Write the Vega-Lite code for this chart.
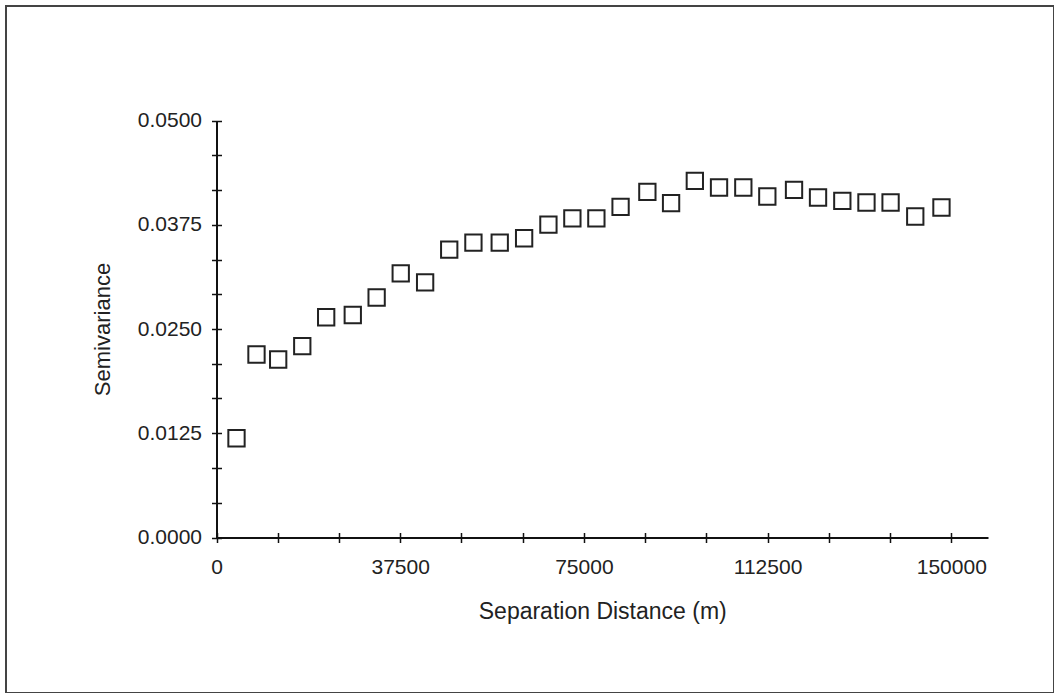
{
  "$schema": "https://vega.github.io/schema/vega-lite/v6.json",
  "autosize": {"type": "none"},
  "padding": {"left": 6, "top": 6, "right": 0, "bottom": 0},
  "width": 1048,
  "height": 687,
  "background": "white",
  "config": {
    "view": {"stroke": "#444", "strokeWidth": 2},
    "axis": {"grid": false, "labelFont": "Liberation Sans", "titleFont": "Liberation Sans", "labelColor": "#222", "titleColor": "#222", "titleFontWeight": "normal", "domainColor": "#111", "tickColor": "#111"}
  },
  "data": {"values": [
    {"lag": 4082, "gamma": 0.01190},
    {"lag": 8163, "gamma": 0.02194},
    {"lag": 12592, "gamma": 0.02134},
    {"lag": 17510, "gamma": 0.02294},
    {"lag": 22390, "gamma": 0.02641},
    {"lag": 27820, "gamma": 0.02668},
    {"lag": 32690, "gamma": 0.02878},
    {"lag": 37610, "gamma": 0.03168},
    {"lag": 42590, "gamma": 0.03060},
    {"lag": 47510, "gamma": 0.03451},
    {"lag": 52450, "gamma": 0.03535},
    {"lag": 57820, "gamma": 0.03535},
    {"lag": 62800, "gamma": 0.03588},
    {"lag": 67760, "gamma": 0.03751},
    {"lag": 72650, "gamma": 0.03827},
    {"lag": 77550, "gamma": 0.03827},
    {"lag": 82490, "gamma": 0.03965},
    {"lag": 87960, "gamma": 0.04145},
    {"lag": 92800, "gamma": 0.04010},
    {"lag": 97650, "gamma": 0.04275},
    {"lag": 102590, "gamma": 0.04197},
    {"lag": 107550, "gamma": 0.04197},
    {"lag": 112450, "gamma": 0.04089},
    {"lag": 117900, "gamma": 0.04169},
    {"lag": 122800, "gamma": 0.04077},
    {"lag": 127760, "gamma": 0.04037},
    {"lag": 132690, "gamma": 0.04017},
    {"lag": 137610, "gamma": 0.04017},
    {"lag": 142650, "gamma": 0.03849},
    {"lag": 148000, "gamma": 0.03957}
  ]},
  "layer": [
    {
      "mark": {"type": "point", "shape": "square", "filled": false, "stroke": "#222", "strokeWidth": 2, "size": 266, "opacity": 1},
      "encoding": {
        "x": {"field": "lag", "type": "quantitative",
          "scale": {"domain": [0, 157500], "range": [210.5, 982], "nice": false, "zero": false},
          "axis": {"orient": "bottom", "offset": -155.5, "title": "Separation Distance (m)",
            "values": [0, 12500, 25000, 37500, 50000, 62500, 75000, 87500, 100000, 112500, 125000, 137500, 150000],
            "labelExpr": "datum.value % 37500 == 0 ? format(datum.value, 'd') : ''",
            "tickSize": 5, "tickWidth": 1.5, "domainWidth": 2, "labelFontSize": 21, "labelPadding": 14,
            "titleFontSize": 23, "titlePadding": 23, "labelFlush": false, "labelOverlap": false}},
        "y": {"field": "gamma", "type": "quantitative",
          "scale": {"domain": [0, 0.05], "range": [531.5, 114.5], "nice": false, "zero": false},
          "axis": {"orient": "left", "offset": -210.5, "title": "Semivariance",
            "values": [0, 0.0041667, 0.0083333, 0.0125, 0.0166667, 0.0208333, 0.025, 0.0291667, 0.0333333, 0.0375, 0.0416667, 0.0458333, 0.05],
            "labelExpr": "abs(datum.value * 80 - round(datum.value * 80)) < 0.001 ? format(datum.value, '.4f') : ''",
            "tickSize": 5, "tickWidth": 1.5, "domainWidth": 2, "labelFontSize": 21, "labelPadding": 10,
            "titleFontSize": 22, "titlePadding": 23, "labelFlush": false, "labelOverlap": false}}
      }
    },
    {
      "mark": {"type": "point", "opacity": 0},
      "encoding": {
        "x": {"field": "lag", "type": "quantitative",
          "axis": {"orient": "bottom", "offset": -155.5, "title": null, "labels": false, "domain": false,
            "values": [0, 12500, 25000, 37500, 50000, 62500, 75000, 87500, 100000, 112500, 125000, 137500, 150000],
            "tickSize": -5, "tickWidth": 1.5}},
        "y": {"field": "gamma", "type": "quantitative",
          "axis": {"orient": "left", "offset": -210.5, "title": null, "labels": false, "domain": false,
            "values": [0, 0.0041667, 0.0083333, 0.0125, 0.0166667, 0.0208333, 0.025, 0.0291667, 0.0333333, 0.0375, 0.0416667, 0.0458333, 0.05],
            "tickSize": -5, "tickWidth": 1.5}}
      }
    }
  ],
  "resolve": {"axis": {"x": "independent", "y": "independent"}}
}
